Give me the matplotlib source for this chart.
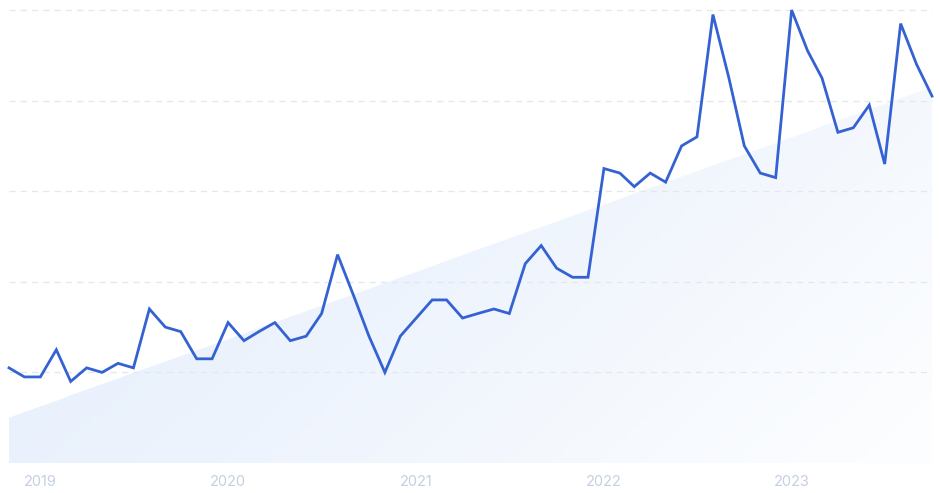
import numpy as np
import pandas as pd
import matplotlib
matplotlib.use("Agg")
import matplotlib.pyplot as plt
import matplotlib.dates as mdates
from matplotlib.colors import LinearSegmentedColormap

plt.rcParams['font.family'] = ['Inter', 'DejaVu Sans']

# monthly interest, Nov 2018 - Oct 2023
months = pd.date_range('2018-11-01', '2023-10-01', freq='MS')
interest = [21, 19, 19, 25, 18, 21, 20, 22, 21, 34, 30, 29,
            23, 23, 31, 27, 29, 31, 27, 28, 33, 46, 37, 28,
            20, 28, 32, 36, 36, 32, 33, 34, 33, 44, 48, 43,
            41, 41, 65, 64, 61, 64, 62, 70, 72, 99, 85, 70,
            64, 63, 100, 91, 85, 73, 74, 79, 66, 97, 88, 81]
# trend band: value at first and last month
trend_start, trend_end = 10, 83
year_labels = ['2019', '2020', '2021', '2022', '2023']

fig = plt.figure(figsize=(9.4, 4.93), dpi=100)
ax = fig.add_axes([9 / 940, 30 / 493, 923 / 940, 453 / 493])

x = mdates.date2num(months)
ax.set_xlim(x[0], x[-1])
ax.set_ylim(0, 100)

# gradient filled trend area
trend = np.linspace(trend_start, trend_end, len(x))
poly = ax.fill_between(x, 0, trend, color='none', lw=0)
gx, gy = np.meshgrid(np.linspace(0, 1, 300), np.linspace(1, 0, 200))
grad = 0.65 * gx + 0.35 * (1 - gy)
cmap = LinearSegmentedColormap.from_list('fade', ['#e1ecfb', '#eef4fd', '#fdfeff'])
img = ax.imshow(grad, cmap=cmap, extent=[x[0], x[-1], 0, 100],
                aspect='auto', origin='upper', zorder=1)
img.set_clip_path(poly.get_paths()[0], transform=ax.transData)

# dashed grid
for g in [20, 40, 60, 80, 100]:
    ax.axhline(g, color='#e3e7ee', lw=0.9, dashes=(5, 4), zorder=2, clip_on=False)

ax.plot(x, interest, color='#3562d3', lw=2.0, zorder=3, clip_on=False,
        solid_joinstyle='miter')

ticks = [mdates.date2num(pd.Timestamp(y + '-01-01')) for y in year_labels]
ax.set_xticks(ticks)
ax.set_xticklabels(year_labels, color='#c5cfe2', fontsize=10.5)
ax.tick_params(axis='x', length=0, pad=9)
ax.set_yticks([])
for s in ax.spines.values():
    s.set_visible(False)

fig.savefig('out.png', dpi=100)
